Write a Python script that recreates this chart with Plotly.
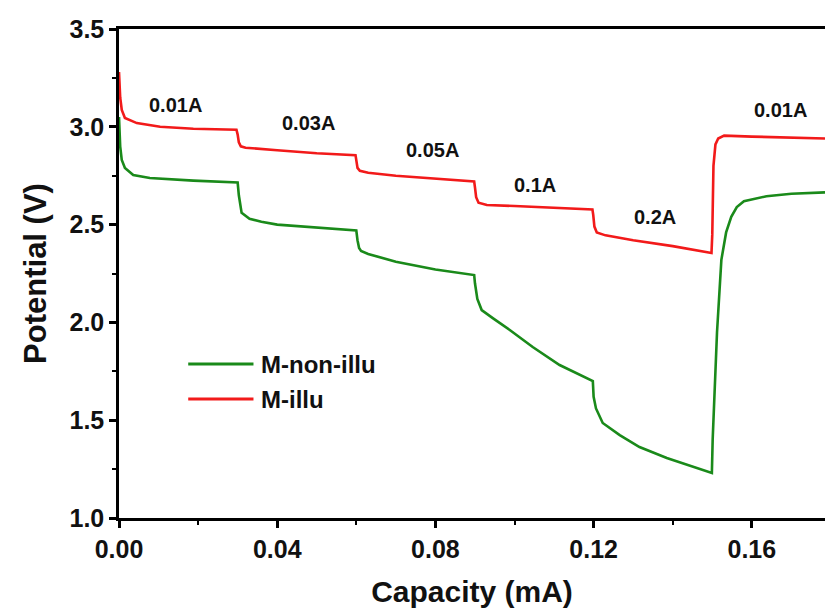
import plotly.graph_objects as go

# ---- data ----
green_x = [0, 0.0003, 0.0007, 0.0015, 0.0036, 0.0078, 0.0188, 0.0300, 0.0303, 0.0307, 0.031, 0.033,
           0.036, 0.040, 0.050, 0.0600, 0.0603, 0.0607, 0.0612, 0.063, 0.070, 0.080, 0.0898, 0.0900,
           0.0906, 0.0917, 0.0945, 0.0988, 0.1046, 0.1114, 0.1198, 0.1200, 0.1206, 0.1223, 0.1266,
           0.1316, 0.1385, 0.1450, 0.1499, 0.1501, 0.1506, 0.1512, 0.1523, 0.1535, 0.1548, 0.1562,
           0.158, 0.1637, 0.170, 0.1785]
green_y = [3.05, 2.90, 2.83, 2.79, 2.754, 2.738, 2.725, 2.715, 2.65, 2.58, 2.56, 2.53,
           2.515, 2.50, 2.485, 2.47, 2.42, 2.38, 2.365, 2.35, 2.31, 2.27, 2.242, 2.20,
           2.12, 2.063, 2.022, 1.961, 1.874, 1.782, 1.70, 1.62, 1.56, 1.486, 1.424,
           1.363, 1.307, 1.261, 1.23, 1.40, 1.67, 1.95, 2.32, 2.46, 2.54, 2.59,
           2.62, 2.645, 2.658, 2.665]

red_x = [0, 0.0003, 0.0007, 0.0015, 0.0045, 0.0104, 0.0188, 0.0297, 0.0300, 0.0303, 0.0308, 0.032,
         0.040, 0.050, 0.0598, 0.0600, 0.0603, 0.0609, 0.063, 0.070, 0.080, 0.0898, 0.0900, 0.0903,
         0.0909, 0.093, 0.100, 0.110, 0.1197, 0.1199, 0.1202, 0.1208, 0.123, 0.130, 0.140, 0.1498,
         0.1500, 0.1503, 0.1508, 0.1515, 0.153, 0.160, 0.170, 0.1785]
red_y = [3.28, 3.15, 3.086, 3.045, 3.019, 3.00, 2.99, 2.985, 2.96, 2.92, 2.90, 2.893,
         2.88, 2.865, 2.855, 2.83, 2.79, 2.775, 2.765, 2.75, 2.735, 2.72, 2.69, 2.64,
         2.612, 2.60, 2.595, 2.585, 2.577, 2.55, 2.49, 2.46, 2.445, 2.42, 2.39, 2.355,
         2.45, 2.80, 2.91, 2.94, 2.955, 2.95, 2.945, 2.94]

current_labels = ["0.01A", "0.03A", "0.05A", "0.1A", "0.2A", "0.01A"]
current_x = [0.0144, 0.0478, 0.0793, 0.1051, 0.1354, 0.1673]
current_y = [3.111, 3.02, 2.88, 2.70, 2.539, 3.086]

series_names = ["M-non-illu", "M-illu"]
x_ticks = [0.00, 0.04, 0.08, 0.12, 0.16]
x_tick_labels = ["0.00", "0.04", "0.08", "0.12", "0.16"]
y_ticks = [1.0, 1.5, 2.0, 2.5, 3.0, 3.5]
y_tick_labels = ["1.0", "1.5", "2.0", "2.5", "3.0", "3.5"]

GREEN = "#1a8a1a"
RED = "#f21a1a"
FONT = "Liberation Sans"

fig = go.Figure()
fig.add_trace(go.Scatter(x=green_x, y=green_y, mode="lines", name=series_names[0],
                         line=dict(color=GREEN, width=2.6), showlegend=False))
fig.add_trace(go.Scatter(x=red_x, y=red_y, mode="lines", name=series_names[1],
                         line=dict(color=RED, width=2.6), showlegend=False))

for t, x, y in zip(current_labels, current_x, current_y):
    fig.add_annotation(x=x, y=y, text=t, showarrow=False,
                       font=dict(family=FONT, size=20, color="#111", weight="bold"))

# legend (drawn manually to match long sample lines)
leg_x0, leg_x1, leg_tx = 0.0175, 0.0340, 0.0355
leg_y = [1.787, 1.608]
for name, col, ly in zip(series_names, [GREEN, RED], leg_y):
    fig.add_shape(type="line", x0=leg_x0, x1=leg_x1, y0=ly, y1=ly, xref="x", yref="y",
                  line=dict(color=col, width=3))
    fig.add_annotation(x=leg_tx, y=ly, text=name, showarrow=False, xanchor="left", yanchor="middle",
                       font=dict(family=FONT, size=24, color="#111", weight="bold"))

axis_common = dict(
    showgrid=False, zeroline=False, showline=True, linecolor="#000", linewidth=2.5,
    ticks="outside", ticklen=7, tickwidth=2.5, tickcolor="#000",
    tickfont=dict(family=FONT, size=25, color="#111", weight="bold"),
)
fig.update_xaxes(range=[0, 0.1785], tickvals=x_ticks, ticktext=x_tick_labels, mirror=True,
                 minor=dict(ticks="outside", dtick=0.02, ticklen=4, tickwidth=2, tickcolor="#000"),
                 title=dict(text="Capacity (mA)", standoff=20,
                            font=dict(family=FONT, size=30, color="#111", weight="bold")),
                 **axis_common)
fig.update_yaxes(range=[1.0, 3.5], tickvals=y_ticks, ticktext=y_tick_labels, mirror=False,
                 minor=dict(ticks="outside", dtick=0.25, ticklen=4, tickwidth=2, tickcolor="#000"),
                 title=dict(text="Potential (V)", standoff=14,
                            font=dict(family=FONT, size=31, color="#111", weight="bold")),
                 **axis_common)

fig.update_layout(width=825, height=612, margin=dict(l=119, r=0, t=29, b=94),
                  plot_bgcolor="white", paper_bgcolor="white", showlegend=False)

fig.write_html("out.html")
